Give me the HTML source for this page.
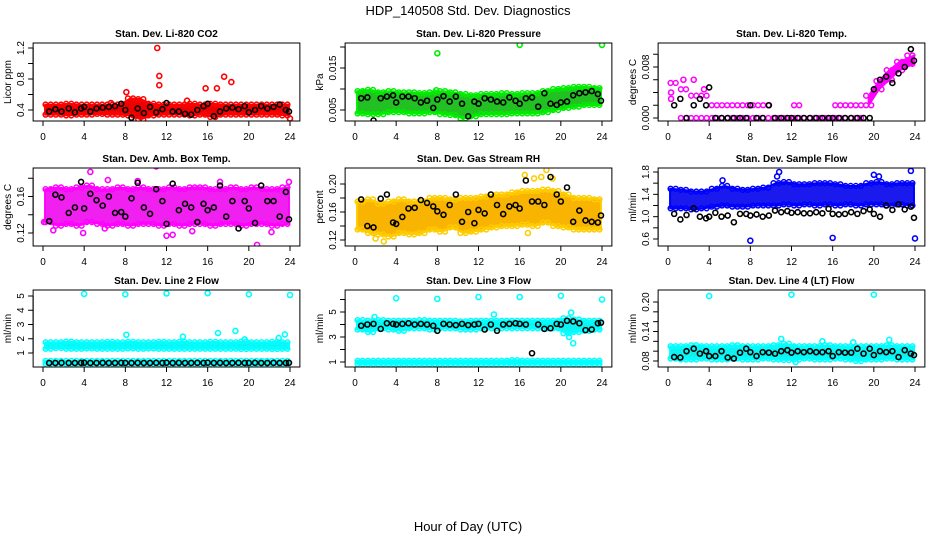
<!DOCTYPE html>
<html><head><meta charset="utf-8"><style>
html,body{margin:0;padding:0;background:#fff;}
svg{display:block;font-family:"Liberation Sans",Arial,sans-serif;}
</style></head><body>
<svg id="chart" width="936" height="540" viewBox="0 0 936 540" xmlns="http://www.w3.org/2000/svg">
<text x="468" y="15" text-anchor="middle" font-size="13">HDP_140508  Std. Dev. Diagnostics</text>
<text x="468" y="531" text-anchor="middle" font-size="13">Hour of Day (UTC)</text>
</svg>
<script>
// shared time array for black series (hour of day)
const blackTimes = [0.6,1.2,1.8,2.5,3.1,3.7,4.0,4.6,5.2,5.8,6.4,7.0,7.6,8.0,8.6,9.2,9.8,10.4,11.0,11.6,12.0,12.6,13.2,13.8,14.4,15.0,15.6,16.0,16.6,17.2,17.8,18.4,19.0,19.6,20.0,20.6,21.2,21.8,22.4,23.0,23.6,23.9];
const xTicks = [0,4,8,12,16,20,24];

// Panel 1: CO2
const co2Black = [0.38,0.41,0.38,0.42,0.37,0.42,0.44,0.38,0.42,0.43,0.44,0.45,0.48,0.40,0.30,0.42,0.36,0.44,0.37,0.41,0.49,0.38,0.38,0.35,0.34,0.40,0.45,0.48,0.32,0.38,0.42,0.43,0.41,0.45,0.37,0.40,0.45,0.42,0.44,0.47,0.40,0.38];
const co2Hi = [0.47,0.47,0.48,0.47,0.47,0.47,0.47,0.47,0.55,0.54,0.48,0.47,0.47,0.47,0.48,0.47,0.48,0.47,0.47,0.47,0.47,0.47,0.47,0.47];
const co2Lo = [0.34,0.34,0.33,0.34,0.34,0.35,0.34,0.34,0.33,0.28,0.33,0.34,0.34,0.34,0.33,0.34,0.31,0.34,0.34,0.34,0.34,0.34,0.34,0.33];
const co2OutT = [8.1,11.1,11.3,11.3,15.8,16.9,17.6,18.3,24.0,6.6,14.0];
const co2OutV = [0.63,1.2,0.84,0.72,0.68,0.68,0.83,0.76,0.29,0.49,0.52];
const co2Ticks = [0.4,0.6,0.8,1.0,1.2];
const co2Labels = ["0.4","","0.8","","1.2"];

// Panel 2: Pressure
const presBlack = [0.0078,0.0080,0.0025,0.0078,0.0082,0.0085,0.0068,0.0082,0.0082,0.0078,0.0068,0.0072,0.0055,0.0075,0.0083,0.0070,0.0082,0.0065,0.0035,0.0070,0.0065,0.0078,0.0075,0.0070,0.0068,0.0080,0.0072,0.0065,0.0078,0.0080,0.0058,0.0090,0.0065,0.0062,0.0068,0.0070,0.0085,0.0090,0.0092,0.0095,0.0088,0.0072];
const presHi = [0.0095,0.0098,0.0092,0.0095,0.0092,0.0092,0.0090,0.0092,0.0095,0.0092,0.0088,0.0085,0.0088,0.0088,0.0090,0.0088,0.0090,0.0090,0.0095,0.0100,0.0102,0.0105,0.0105,0.0102];
const presLo = [0.0042,0.0040,0.0040,0.0045,0.0045,0.0042,0.0042,0.0045,0.0040,0.0038,0.0030,0.0035,0.0040,0.0040,0.0040,0.0042,0.0042,0.0042,0.0045,0.0050,0.0055,0.0058,0.0062,0.0062];
const presOutT = [8.0,16.0,24.0,7.9];
const presOutV = [0.0185,0.0205,0.0205,0.0097];
const presTicks = [0.005,0.010,0.015,0.020];
const presLabels = ["0.005","","0.015",""];

// Panel 3: Li-820 Temp
const tempBlack = [0.002,0.003,0,0.002,0.003,0.002,0.0048,0,0,0,0,0,0,0.002,0,0,0.002,0,0,0,0,0,0,0,0,0,0,0,0,0,0,0,0,0,0.0045,0.006,0.0065,0.0055,0.0070,0.0080,0.0108,0.009];
const tempHi = [0.0055,0.0045,0.0035,0.0035,0.002,0.002,0.002,0.002,0.002,0.002,null,null,0.002,null,null,null,0.002,0.002,0.002,0.0035,0.0058,0.0075,0.0088,0.0098];
const tempLo = [null,0,0,0,0,0,0,0,0,0,0,0,0,0,0,0,0,0,0,0.002,0.0045,0.006,0.0075,0.0085];
const tempOutT = [3.5,0.3,0.3,1.5,2.5];
const tempOutV = [0.0045,0.004,0.003,0.006,0.006];
const tempTicks = [0,0.002,0.004,0.006,0.008,0.010];
const tempLabels = ["0.000","","","","0.008",""];

// Panel 4: Amb box temp
const ambBlack = [0.133,0.162,0.159,0.142,0.148,0.176,0.147,0.163,0.156,0.150,0.160,0.142,0.143,0.138,0.158,0.175,0.148,0.141,0.168,0.155,0.130,0.174,0.145,0.152,0.148,0.132,0.152,0.145,0.148,0.172,0.138,0.155,0.125,0.155,0.147,0.131,0.172,0.155,0.155,0.138,0.165,0.135];
const ambHi = [0.168,0.17,0.168,0.17,0.172,0.168,0.168,0.17,0.168,0.17,0.168,0.168,0.17,0.168,0.17,0.17,0.168,0.168,0.17,0.168,0.17,0.168,0.168,0.17];
const ambLo = [0.132,0.128,0.13,0.128,0.132,0.13,0.128,0.13,0.128,0.13,0.13,0.128,0.13,0.128,0.13,0.13,0.128,0.13,0.13,0.128,0.13,0.13,0.128,0.13];
const ambOutT = [4.6,11.0,20.8,1.0,12.0,6.0,3.9,9.2,17.2,12.6,23.9,0.1,22.2,6.3,14.5];
const ambOutV = [0.187,0.193,0.107,0.123,0.117,0.125,0.120,0.177,0.176,0.118,0.176,0.132,0.121,0.178,0.122];
const ambTicks = [0.12,0.14,0.16,0.18];
const ambLabels = ["0.12","","0.16",""];

// Panel 5: Gas stream RH
const rhBlack = [0.178,0.14,0.138,0.179,0.185,0.145,0.143,0.153,0.165,0.166,0.177,0.173,0.168,0.161,0.156,0.170,0.185,0.146,0.16,0.144,0.163,0.158,0.185,0.17,0.157,0.168,0.17,0.165,0.205,0.175,0.175,0.17,0.21,0.185,0.175,0.195,0.146,0.162,0.148,0.146,0.145,0.155];
const rhHi = [0.175,0.178,0.172,0.175,0.178,0.175,0.175,0.18,0.18,0.178,0.18,0.18,0.182,0.185,0.185,0.188,0.19,0.19,0.192,0.19,0.185,0.18,0.18,0.178];
const rhLo = [0.135,0.13,0.128,0.125,0.13,0.128,0.13,0.135,0.132,0.138,0.13,0.132,0.135,0.138,0.14,0.14,0.142,0.14,0.145,0.14,0.138,0.135,0.135,0.135];
const rhOutT = [2.8,16.5,17.4,18.1,18.6,19.2,2.0,16.8];
const rhOutV = [0.118,0.213,0.208,0.21,0.22,0.208,0.122,0.13];
const rhTicks = [0.12,0.14,0.16,0.18,0.20];
const rhLabels = ["0.12","","0.16","","0.20"];

// Panel 6: Sample flow
const sfBlack = [1.05,0.95,1.03,1.15,1.0,0.97,1.0,1.07,1.0,1.02,0.9,1.05,1.05,1.02,1.04,1.0,1.02,1.11,1.08,1.1,1.07,1.08,1.06,1.06,1.08,1.06,1.14,1.05,1.04,1.05,1.08,1.05,1.1,1.13,1.05,1.0,1.2,1.12,1.22,1.13,1.18,0.98];
const sfHi = [1.5,1.48,1.45,1.45,1.5,1.55,1.5,1.48,1.5,1.52,1.6,1.62,1.58,1.58,1.6,1.6,1.58,1.55,1.55,1.6,1.62,1.58,1.6,1.6];
const sfLo = [1.15,1.15,1.13,1.15,1.18,1.2,1.18,1.18,1.2,1.2,1.2,1.22,1.2,1.22,1.2,1.22,1.2,1.22,1.2,1.22,1.22,1.2,1.22,1.2];
const sfOutT = [8,16,24,23.6,10.8,20,10.6,5.3,20.5];
const sfOutV = [0.57,0.62,0.61,1.82,1.8,1.75,1.72,1.65,1.72];
const sfTicks = [0.6,0.8,1.0,1.2,1.4,1.6,1.8];
const sfLabels = ["0.6","","1.0","","1.4","","1.8"];

// Panel 7: Line 2 flow
const l2Black = [0.3,0.3,0.31,0.3,0.3,0.31,0.32,0.3,0.3,0.31,0.3,0.3,0.31,0.3,0.3,0.31,0.3,0.3,0.31,0.3,0.32,0.3,0.31,0.3,0.3,0.31,0.3,0.32,0.3,0.31,0.3,0.3,0.31,0.3,0.3,0.31,0.3,0.3,0.31,0.3,0.3,0.31];
const l2HiA = [1.75,1.75,1.8,1.75,1.75,1.75,1.78,1.75,1.78,1.75,1.75,1.78,1.75,1.78,1.75,1.75,1.78,1.75,1.75,1.8,1.75,1.75,1.78,1.75];
const l2LoA = [1.3,1.35,1.3,1.3,1.32,1.3,1.3,1.3,1.32,1.3,1.32,1.3,1.3,1.3,1.3,1.3,1.3,1.3,1.3,1.28,1.3,1.3,1.28,1.3];
const l2HiB = [0.45,0.45,0.45,0.45,0.45,0.45,0.45,0.45,0.45,0.45,0.45,0.45,0.45,0.45,0.45,0.45,0.45,0.45,0.45,0.45,0.45,0.45,0.45,0.45];
const l2LoB = [0.25,0.25,0.25,0.25,0.25,0.25,0.25,0.25,0.25,0.25,0.25,0.25,0.25,0.25,0.25,0.25,0.25,0.25,0.25,0.25,0.25,0.25,0.25,0.25];
const l2OutT = [4,8,12,16,20,24,8.1,13.6,17,18.7,23.5,22.9,19.6];
const l2OutV = [5.15,5.12,5.18,5.2,5.12,5.07,2.28,2.15,2.4,2.55,2.3,2.05,1.95];
const l2Ticks = [1,2,3,4,5];
const l2Labels = ["1","2","3","4","5"];

// Panel 8: Line 3 flow
const l3Black = [3.9,4.0,4.05,3.65,4.1,4.05,4.0,4.05,4.1,4.0,4.05,4.0,3.9,3.5,4.05,4.0,3.95,4.05,3.95,4.0,4.05,3.6,4.0,3.5,4.0,4.05,4.1,4.05,4.0,1.7,4.0,3.65,3.7,4.05,4.0,4.3,4.25,4.1,3.55,3.6,4.1,4.15];
const l3HiA = [4.35,4.3,4.35,4.3,4.3,4.3,4.35,4.3,4.3,4.3,4.25,4.3,4.3,4.3,4.3,4.3,4.3,4.3,4.3,4.3,4.5,4.4,4.3,4.3];
const l3LoA = [3.6,3.4,3.7,3.6,3.5,3.7,3.7,3.6,3.7,3.7,3.6,3.6,3.7,3.7,3.7,3.7,3.7,3.7,3.7,3.7,3.3,3.4,3.5,3.6];
const l3HiB = [1.1,1.1,1.1,1.1,1.1,1.1,1.1,1.1,1.1,1.1,1.1,1.1,1.1,1.1,1.1,1.15,1.1,1.1,1.1,1.1,1.1,1.1,1.1,1.1];
const l3LoB = [0.85,0.85,0.85,0.85,0.85,0.85,0.85,0.85,0.85,0.85,0.85,0.85,0.85,0.85,0.85,0.85,0.85,0.85,0.85,0.85,0.85,0.85,0.85,0.85];
const l3OutT = [4,8,12,16,20,24,13.5,21,21.2,1.9,20.8];
const l3OutV = [6.1,6.05,6.2,6.2,6.3,6.0,4.8,4.95,2.5,4.6,3.0];
const l3Ticks = [1,2,3,4,5,6];
const l3Labels = ["1","","3","","5",""];

// Panel 9: Line 4 flow
const l4Black = [0.088,0.087,0.1,0.105,0.095,0.1,0.09,0.09,0.1,0.087,0.085,0.097,0.105,0.098,0.09,0.098,0.097,0.095,0.1,0.102,0.097,0.1,0.098,0.1,0.098,0.098,0.1,0.09,0.098,0.097,0.097,0.105,0.095,0.105,0.092,0.1,0.098,0.1,0.088,0.102,0.095,0.092];
const l4Hi = [0.11,0.11,0.112,0.11,0.11,0.11,0.112,0.11,0.11,0.11,0.112,0.115,0.11,0.11,0.11,0.112,0.11,0.11,0.11,0.11,0.11,0.112,0.11,0.11];
const l4Lo = [0.085,0.083,0.083,0.085,0.083,0.083,0.085,0.083,0.083,0.085,0.083,0.082,0.083,0.085,0.083,0.083,0.085,0.083,0.08,0.083,0.083,0.085,0.083,0.083];
const l4OutT = [4,12,20,11,21.5,15,12.4,18];
const l4OutV = [0.212,0.215,0.215,0.125,0.123,0.12,0.078,0.118];
const l4Ticks = [0.08,0.10,0.12,0.14,0.16,0.18,0.20];
const l4Labels = ["0.08","","","0.14","","","0.20"];

const NS = "http://www.w3.org/2000/svg";
const svg = document.getElementById('chart');
function mk(tag, attrs, parent){ const e=document.createElementNS(NS,tag); for(const k in attrs) e.setAttribute(k,attrs[k]); (parent||svg).appendChild(e); return e; }

const colX = [43,355,668];
const rowBox = [[43,121],[168,246],[290,367]];
const xUnit = 247/24;

const panels = [
 {title:"Stan. Dev. Li-820 CO2", ylab:"Licor ppm", col:0,row:0, y0:0.4,p0:110,y1:1.2,p1:48, ticks:co2Ticks, labels:co2Labels, color:"#ff0000", fill:"#ee0000", bands:[[co2Hi,co2Lo]], outT:co2OutT,outV:co2OutV, black:co2Black, name:"co2"},
 {title:"Stan. Dev. Li-820 Pressure", ylab:"kPa", col:1,row:0, y0:0.005,p0:110,y1:0.015,p1:68, ticks:presTicks, labels:presLabels, color:"#00ee00", fill:"#22c022", bands:[[presHi,presLo]], outT:presOutT,outV:presOutV, black:presBlack, name:"pressure"},
 {title:"Stan. Dev. Li-820 Temp.", ylab:"degrees C", col:2,row:0, y0:0,p0:118,y1:0.008,p1:67, ticks:tempTicks, labels:tempLabels, color:"#ff00ff", fill:"#ff00ff", bands:[[tempHi,tempLo]], fillFrom:19, outT:tempOutT,outV:tempOutV, black:tempBlack, name:"li820-temp"},
 {title:"Stan. Dev. Amb. Box Temp.", ylab:"degrees C", col:0,row:1, y0:0.12,p0:233,y1:0.16,p1:196.5, ticks:ambTicks, labels:ambLabels, color:"#ff00ff", fill:"#f020f0", bands:[[ambHi,ambLo]], outT:ambOutT,outV:ambOutV, black:ambBlack, name:"amb-box-temp"},
 {title:"Stan. Dev. Gas Stream RH", ylab:"percent", col:1,row:1, y0:0.12,p0:240,y1:0.20,p1:184, ticks:rhTicks, labels:rhLabels, color:"#ffcc00", fill:"#f8b400", bands:[[rhHi,rhLo]], outT:rhOutT,outV:rhOutV, black:rhBlack, name:"gas-stream-rh"},
 {title:"Stan. Dev. Sample Flow", ylab:"ml/min", col:2,row:1, y0:0.6,p0:239,y1:1.8,p1:172, ticks:sfTicks, labels:sfLabels, color:"#0000ff", fill:"#1a1aee", bands:[[sfHi,sfLo]], outT:sfOutT,outV:sfOutV, black:sfBlack, name:"sample-flow"},
 {title:"Stan. Dev. Line 2 Flow", ylab:"ml/min", col:0,row:2, y0:1,p0:353,y1:5,p1:296, ticks:l2Ticks, labels:l2Labels, color:"#00ffff", fill:"#10f0f0", bands:[[l2HiA,l2LoA],[l2HiB,l2LoB]], outT:l2OutT,outV:l2OutV, black:l2Black, name:"line2-flow"},
 {title:"Stan. Dev. Line 3 Flow", ylab:"ml/min", col:1,row:2, y0:1,p0:362,y1:5,p1:312, ticks:l3Ticks, labels:l3Labels, color:"#00ffff", fill:"#10f0f0", bands:[[l3HiA,l3LoA],[l3HiB,l3LoB]], outT:l3OutT,outV:l3OutV, black:l3Black, name:"line3-flow"},
 {title:"Stan. Dev. Line 4 (LT) Flow", ylab:"ml/min", col:2,row:2, y0:0.08,p0:361,y1:0.20,p1:302, ticks:l4Ticks, labels:l4Labels, color:"#00ffff", fill:"#10f0f0", bands:[[l4Hi,l4Lo]], outT:l4OutT,outV:l4OutV, black:l4Black, name:"line4-flow"}
];

panels.forEach(p=>{
  const g = mk('g',{});
  
  
  const x0 = colX[p.col];
  const xs = t => x0 + t*xUnit;
  const ys = v => p.p0 + (v-p.y0)*(p.p1-p.p0)/(p.y1-p.y0);
  const [bt,bb] = rowBox[p.row];
  const bl = xs(-0.96), br = xs(24.96);
  const cid = 'clip-'+p.name;
  const cp = mk('clipPath',{id:cid},g); mk('rect',{x:bl,y:bt,width:br-bl,height:bb-bt},cp);
  const plot = mk('g',{'clip-path':'url(#'+cid+')'},g);
  
  
  p.bands.forEach((bd,bi)=>{
    const hi=bd[0], lo=bd[1];
    const from = p.fillFrom||0;
    let top=[], bot=[];
    for(let i=from;i<hi.length;i++){ if(hi[i]==null||lo[i]==null) continue; const t=(i===from&&from===0)?0.2:i+0.5; top.push(xs(i===hi.length-1?23.9:t)+','+ys(hi[i])); bot.unshift(xs(i===hi.length-1?23.9:t)+','+ys(lo[i])); }
    if(top.length>1){
      const poly = mk('polygon',{points:top.concat(bot).join(' '),fill:p.fill,stroke:p.color,'stroke-width':2,'stroke-linejoin':'round'},plot);
      
      
    }
    [hi,lo].forEach(arr=>{
      arr.forEach((v,i)=>{
        if(v==null) return;
        [i+0.25,i+0.75].forEach(t=>{
          const c = mk('circle',{cx:xs(t),cy:ys(v),r:2.4,fill:'none',stroke:p.color,'stroke-width':1.5},plot);
          
          
        });
      });
    });
  });
  p.outT.forEach((t,i)=>{
    const c = mk('circle',{cx:xs(t),cy:ys(p.outV[i]),r:2.5,fill:'none',stroke:p.color,'stroke-width':1.6},plot);
    
    
  });
  p.black.forEach((v,i)=>{
    const c = mk('circle',{cx:xs(blackTimes[i]),cy:ys(v),r:2.5,fill:'none',stroke:'#000','stroke-width':1.6},plot);
    
    
  });
  const box = mk('rect',{x:bl,y:bt,width:br-bl,height:bb-bt,fill:'none',stroke:'#000','stroke-width':1},g);
  
  
  const ti = mk('text',{x:(bl+br)/2,y:bt-6,'text-anchor':'middle','font-size':10,'font-weight':'bold'},g);
  ti.textContent = p.title;
  
  
  const xa = mk('g',{},g);
  
  
  mk('line',{x1:xs(0),x2:xs(24),y1:bb,y2:bb,stroke:'#000'},xa);
  xTicks.forEach(t=>{
    mk('line',{x1:xs(t),x2:xs(t),y1:bb,y2:bb+5,stroke:'#000'},xa);
    const tl = mk('text',{x:xs(t),y:bb+19,'text-anchor':'middle','font-size':10},xa);
    tl.textContent = t;
    
    
  });
  const ya = mk('g',{},g);
  
  
  const vis = p.ticks.filter(v=>ys(v)>=bt-1&&ys(v)<=bb+1);
  mk('line',{x1:bl,x2:bl,y1:ys(vis[0]),y2:ys(vis[vis.length-1]),stroke:'#000'},ya);
  p.ticks.forEach((v,i)=>{
    const y=ys(v); if(y<bt-1||y>bb+1) return;
    mk('line',{x1:bl-5,x2:bl,y1:y,y2:y,stroke:'#000'},ya);
    if(p.labels[i]){
      const tl = mk('text',{x:bl-9,y:y,'text-anchor':'middle','font-size':10,transform:'rotate(-90 '+(bl-9)+' '+y+')'},ya);
      tl.textContent = p.labels[i];
      
      
    }
  });
  const yl = mk('text',{x:bl-22,y:(bt+bb)/2,'text-anchor':'middle','font-size':10,transform:'rotate(-90 '+(bl-22)+' '+((bt+bb)/2)+')'},g);
  yl.textContent = p.ylab;
  
  
});
</script>
</body></html>
